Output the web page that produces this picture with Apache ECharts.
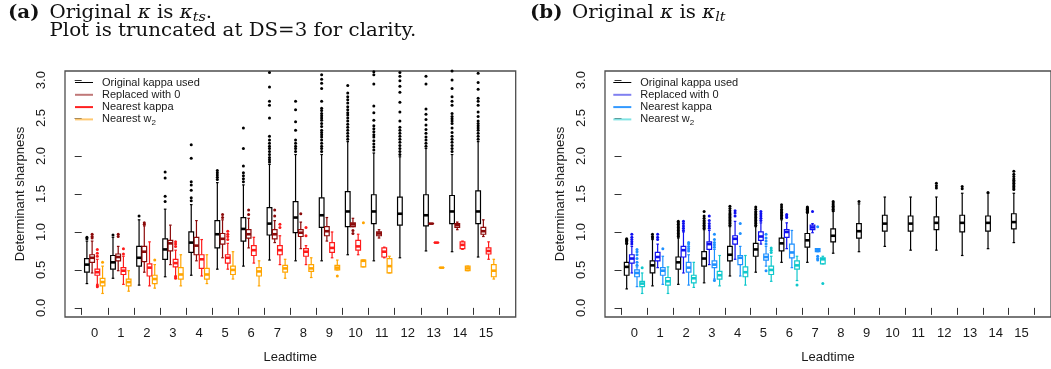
<!DOCTYPE html>
<html>
<head>
<meta charset="utf-8">
<script src="https://cdn.jsdelivr.net/npm/echarts@6/dist/echarts.min.js"></script>
<style>
  html, body { margin: 0; padding: 0; background: #fff; }
  #chart { width: 1051px; height: 369px; }
</style>
</head>
<body>
<div id="chart"></div>
<script>
// ---- categories and tick labels ----
const leadtimes = ['0','1','2','3','4','5','6','7','8','9','10','11','12','13','14','15'];
const yTickValues = [0, 0.5, 1, 1.5, 2, 2.5, 3];
const yTickLabels = ['0.0', '0.5', '1.0', '1.5', '2.0', '2.5', '3.0'];
const seriesNames = ['Original kappa used', 'Replaced with 0', 'Nearest kappa', 'Nearest w2'];

// ---- panel (a): original kappa is kappa_ts; box stats [min, Q1, median, Q3, max] ----
const tsOriginal = [
  [0.32, 0.47, 0.57, 0.65, 0.88], [0.39, 0.51, 0.60, 0.69, 0.93], [0.30, 0.55, 0.66, 0.81, 1.16],
  [0.41, 0.64, 0.77, 0.91, 1.30], [0.43, 0.73, 0.86, 1.00, 1.36], [0.51, 0.79, 0.97, 1.15, 1.65],
  [0.55, 0.88, 1.04, 1.19, 1.62], [0.63, 0.96, 1.11, 1.32, 1.89], [0.62, 0.99, 1.19, 1.40, 2.02],
  [0.62, 1.06, 1.22, 1.45, 2.02], [0.70, 1.07, 1.27, 1.53, 2.19], [0.62, 1.11, 1.27, 1.49, 2.04],
  [0.66, 1.09, 1.24, 1.46, 1.99], [0.75, 1.08, 1.22, 1.49, 2.10], [0.74, 1.11, 1.27, 1.48, 2.02],
  [0.67, 1.11, 1.27, 1.54, 2.19]
];
const tsOriginalOut = [
  [0.91, 0.93], [0.96], [1.21], [1.40, 1.47, 1.71, 1.79],
  [1.41, 1.45, 1.55, 1.62, 1.66, 1.97, 2.15],
  [1.69, 1.72, 1.75, 1.78, 1.81],
  [1.66, 1.70, 1.74, 1.78, 1.87, 2.10, 2.37],
  [1.92, 1.95, 1.98, 2.02, 2.06, 2.10, 2.13, 2.17, 2.21, 2.26, 2.50, 2.67, 2.72, 2.91, 3.10],
  [2.06, 2.10, 2.13, 2.17, 2.21, 2.34, 2.45, 2.61, 2.72],
  [2.06, 2.10, 2.13, 2.17, 2.21, 2.25, 2.28, 2.31, 2.34, 2.39, 2.43, 2.47, 2.50, 2.53, 2.56, 2.60, 2.63, 2.72, 2.89, 2.96, 3.01, 3.07],
  [2.22, 2.26, 2.30, 2.34, 2.38, 2.42, 2.46, 2.50, 2.54, 2.57, 2.61, 2.65, 2.70, 2.74, 2.78, 2.83, 2.93],
  [2.08, 2.12, 2.16, 2.20, 2.25, 2.28, 2.32, 2.36, 2.40, 2.47, 2.57, 2.66, 2.95, 3.07, 3.11],
  [2.02, 2.06, 2.10, 2.14, 2.18, 2.22, 2.26, 2.30, 2.34, 2.38, 2.46, 2.58, 2.71, 2.84, 2.92, 2.99, 3.05, 3.10],
  [2.13, 2.17, 2.21, 2.25, 2.30, 2.35, 2.41, 2.48, 2.55, 2.62, 2.95, 3.05],
  [2.06, 2.10, 2.14, 2.18, 2.22, 2.26, 2.31, 2.37, 2.43, 2.46, 2.49, 2.52, 2.56, 2.67, 2.72, 2.78, 2.89, 3.00, 3.12],
  [2.22, 2.26, 2.30, 2.34, 2.37, 2.40, 2.43, 2.46, 2.52, 2.58, 2.67, 2.72, 2.76, 2.88, 2.97, 3.09]
];
const tsReplaced = [
  [0.46, 0.60, 0.66, 0.70, 0.88], [0.49, 0.62, 0.67, 0.71, 0.81], [0.47, 0.61, 0.74, 0.81, 1.08],
  [0.57, 0.75, 0.85, 0.89, 1.09], [0.62, 0.70, 0.82, 0.93, 1.15], [0.66, 0.84, 0.91, 0.98, 1.16],
  [0.79, 0.92, 0.97, 1.03, 1.18], [0.86, 0.91, 0.97, 1.03, 1.15], [0.78, 0.94, 0.99, 1.03, 1.13],
  [0.88, 0.95, 1.01, 1.07, 1.19], [1.07, 1.07, 1.10, 1.12, 1.18], [0.92, 0.95, 0.98, 1.00, 1.03],
  null, [1.11, 1.11, 1.11, 1.11, 1.11], [1.03, 1.06, 1.09, 1.11, 1.13], [0.94, 0.97, 1.01, 1.06, 1.16]
];
const tsReplacedOut = [
  [0.92, 0.94, 0.97], [0.94, 0.97], [1.10, 1.12], [], [], [1.19, 1.23], [1.23, 1.29], [1.21, 1.29],
  [1.24], [], [0.98, 1.02], [], [], [], [], []
];
const tsNearest = [
  [0.31, 0.43, 0.47, 0.51, 0.64], [0.31, 0.44, 0.49, 0.53, 0.68], [0.29, 0.42, 0.53, 0.58, 0.87],
  [0.42, 0.54, 0.59, 0.64, 0.76], [0.42, 0.52, 0.64, 0.70, 0.90], [0.51, 0.59, 0.66, 0.70, 0.85],
  [0.59, 0.69, 0.76, 0.82, 0.93], [0.57, 0.70, 0.76, 0.82, 0.95], [0.57, 0.68, 0.74, 0.78, 0.82],
  [0.66, 0.73, 0.79, 0.86, 1.00], [0.70, 0.76, 0.81, 0.89, 0.97], [0.66, 0.67, 0.74, 0.79, 0.80],
  null, [0.86, 0.86, 0.86, 0.86, 0.86], [0.77, 0.78, 0.83, 0.87, 0.88], [0.64, 0.71, 0.75, 0.79, 0.87]
];
const tsNearestOut = [
  [0.28, 0.29, 0.68, 0.72, 0.77], [0.71, 0.78], [], [0.39, 0.41, 0.81, 0.84, 0.87], [],
  [0.90, 0.94, 0.97, 1.01], [], [1.06, 1.10], [0.95, 1.06], [], [], [], [], [], [], []
];
const tsW2 = [
  [0.19, 0.29, 0.34, 0.39, 0.55], [0.22, 0.29, 0.34, 0.38, 0.49], [0.26, 0.32, 0.38, 0.43, 0.57],
  [0.29, 0.38, 0.44, 0.53, 0.70], [0.32, 0.38, 0.44, 0.52, 0.70], [0.38, 0.44, 0.50, 0.55, 0.74],
  [0.29, 0.42, 0.48, 0.53, 0.62], [0.39, 0.47, 0.52, 0.56, 0.64], [0.40, 0.48, 0.52, 0.57, 0.66],
  [0.50, 0.50, 0.53, 0.56, 0.63], [0.54, 0.54, 0.62, 0.63, 0.63], [0.46, 0.46, 0.55, 0.65, 0.68],
  null, [0.53, 0.53, 0.53, 0.53, 0.53], [0.49, 0.49, 0.52, 0.55, 0.55], [0.38, 0.41, 0.49, 0.57, 0.64]
];
const tsW2Out = [
  [0.60], [], [0.63], [], [], [], [], [], [], [0.42], [1.12], [], [], [], [], []
];

// ---- panel (b): original kappa is kappa_lt ----
const ltOriginal = [
  [0.25, 0.43, 0.54, 0.60, 0.84], [0.29, 0.46, 0.56, 0.62, 0.90], [0.31, 0.51, 0.60, 0.67, 0.92],
  [0.33, 0.55, 0.65, 0.74, 1.03], [0.42, 0.62, 0.70, 0.81, 1.07], [0.47, 0.68, 0.77, 0.85, 1.07],
  [0.60, 0.75, 0.85, 0.92, 1.16], [0.60, 0.80, 0.89, 0.98, 1.25], [0.72, 0.87, 0.95, 1.04, 1.27],
  [0.74, 0.92, 1.01, 1.11, 1.37], [0.81, 1.01, 1.11, 1.22, 1.46], [0.76, 1.01, 1.11, 1.21, 1.46],
  [0.76, 1.03, 1.12, 1.20, 1.46], [0.69, 1.00, 1.12, 1.22, 1.51], [0.78, 1.01, 1.12, 1.21, 1.51],
  [0.86, 1.04, 1.13, 1.24, 1.51]
];
const ltOriginalOut = [
  [0.85, 0.87, 0.88, 0.89, 0.90, 0.91], [0.92, 0.94, 0.97],
  [0.94, 0.96, 0.98, 1.00, 1.02, 1.04, 1.06, 1.08, 1.10, 1.12, 1.14],
  [1.05, 1.07, 1.09, 1.11, 1.13, 1.15, 1.18, 1.21, 1.27],
  [1.09, 1.11, 1.13, 1.15, 1.17, 1.19, 1.21, 1.23, 1.25, 1.28, 1.31, 1.34],
  [1.09, 1.11, 1.13, 1.15, 1.17, 1.19, 1.21, 1.23, 1.25, 1.27, 1.30, 1.33],
  [1.18, 1.20, 1.22, 1.24, 1.26, 1.28, 1.30, 1.33, 1.36],
  [1.26, 1.27, 1.28, 1.29, 1.30, 1.31, 1.32, 1.33],
  [1.28, 1.30, 1.32, 1.34, 1.36, 1.38, 1.40],
  [1.40], [], [], [1.58, 1.61, 1.64], [1.57, 1.60], [1.52],
  [1.56, 1.58, 1.60, 1.62, 1.64, 1.66, 1.68, 1.70, 1.73, 1.76, 1.80]
];
const ltReplaced = [
  [0.46, 0.59, 0.65, 0.70, 0.81], [0.53, 0.62, 0.67, 0.73, 0.84], [0.46, 0.67, 0.76, 0.81, 1.00],
  [0.57, 0.77, 0.84, 0.87, 1.02], [0.64, 0.84, 0.91, 0.95, 1.14], [0.84, 0.89, 0.94, 1.00, 1.12],
  [0.78, 0.93, 1.00, 1.03, 1.12], [0.99, 1.03, 1.06, 1.09, 1.11],
  null, null, null, null, null, null, null, null
];
const ltReplacedOut = [
  [0.84, 0.87, 0.90, 0.93, 0.97], [0.90, 0.93, 0.97], [1.02, 1.05, 1.08, 1.11, 1.14],
  [1.05, 1.08, 1.11, 1.15, 1.21], [1.21, 1.25, 1.28], [1.15, 1.18, 1.21, 1.24, 1.27],
  [1.19, 1.21, 1.23], [1.27], [], [], [], [], [], [], [], []
];
const ltNearest = [
  [0.28, 0.41, 0.46, 0.50, 0.54], [0.31, 0.43, 0.49, 0.53, 0.68], [0.30, 0.47, 0.53, 0.60, 0.70],
  [0.38, 0.53, 0.57, 0.62, 0.77], [0.42, 0.57, 0.66, 0.69, 0.81], [0.55, 0.63, 0.67, 0.71, 0.81],
  [0.53, 0.66, 0.73, 0.84, 1.02], [0.74, 0.74, 0.76, 0.78, 0.78],
  null, null, null, null, null, null, null, null
];
const ltNearestOut = [
  [0.56, 0.60, 0.65, 0.70, 0.74, 0.77], [0.78], [0.75, 0.78, 0.81, 0.84, 0.86],
  [0.36, 0.80, 0.83, 0.86, 0.90, 0.97], [0.98, 1.11], [0.49, 0.84, 0.88, 0.92, 0.97],
  [], [0.63, 0.65, 0.68, 1.07], [], [], [], [], [], [], [], []
];
const ltW2 = [
  [0.19, 0.28, 0.32, 0.35, 0.46], [0.19, 0.30, 0.35, 0.40, 0.54], [0.27, 0.33, 0.39, 0.43, 0.60],
  [0.29, 0.38, 0.43, 0.48, 0.69], [0.30, 0.41, 0.47, 0.54, 0.69], [0.35, 0.44, 0.50, 0.55, 0.68],
  [0.36, 0.51, 0.56, 0.62, 0.68], [0.58, 0.58, 0.64, 0.66, 0.68],
  null, null, null, null, null, null, null, null
];
const ltW2Out = [
  [0.53], [], [], [], [], [0.73, 0.76, 0.79], [0.30], [0.32], [], [], [], [], [], [], [], []
];

// ---- colours ----
const tsColors = ['#000000', '#8b0a0a', '#ff1a1a', '#ffa500'];
const ltColors = ['#000000', '#1010f0', '#1e90ff', '#10c8cc'];
const tsLegendColors = ['#000000', '#c07878', '#ff2020', '#ffc870'];
const ltLegendColors = ['#000000', '#8080f0', '#3399ff', '#80e4e4'];

const axisFont = 'Liberation Sans, Arial, sans-serif';
const textColor = '#1a1a1a';

// Draws one box-and-whisker (R style: thick median, half-width staples, dot outliers)
function boxRenderer(outliers, slot, color) {
  return function (params, api) {
    const i = api.value(0);
    const band = api.size([1, 0])[0];
    const cx = api.coord([i + 0.5, 0])[0] + (slot - 1.5) * 0.2 * band;
    const hw = 0.09 * band;
    const cap = hw * 0.55;
    const y = v => api.coord([0, v])[1];
    const lo = y(api.value(1)), q1 = y(api.value(2)), md = y(api.value(3));
    const q3 = y(api.value(4)), hi = y(api.value(5));
    const seg = (x1, y1, x2, y2, w) => ({
      type: 'line', shape: { x1, y1, x2, y2 },
      style: { stroke: color, lineWidth: w || 1.2 }
    });
    const children = [
      seg(cx, q3, cx, hi), seg(cx, q1, cx, lo),
      seg(cx - cap, hi, cx + cap, hi), seg(cx - cap, lo, cx + cap, lo),
      { type: 'rect', shape: { x: cx - hw, y: q3, width: 2 * hw, height: Math.max(q1 - q3, 0.01) },
        style: { fill: 'none', stroke: color, lineWidth: 1.2 } },
      seg(cx - hw, md, cx + hw, md, 2.6)
    ];
    (outliers[i] || []).forEach(v => {
      children.push({ type: 'circle', shape: { cx, cy: y(v), r: 1.5 }, style: { fill: color } });
    });
    return { type: 'group', children };
  };
}

function boxSeries(name, stats, outliers, slot, color, gridIndex) {
  const data = [];
  stats.forEach((s, i) => { if (s) data.push([i].concat(s)); });
  return {
    type: 'custom', name, xAxisIndex: gridIndex, yAxisIndex: gridIndex,
    encode: { x: 0, y: [1, 2, 3, 4, 5] },
    itemStyle: { color },
    renderItem: boxRenderer(outliers, slot, color),
    data
  };
}

const tickPos = leadtimes.map((_, i) => i).concat([leadtimes.length]);
const labelPos = leadtimes.map((_, i) => i + 0.5);

function xAxisFor(g) {
  return {
    type: 'value', gridIndex: g, min: -0.64, max: 16.64,
    axisLine: { show: false }, splitLine: { show: false },
    axisTick: { show: true, length: 7, customValues: tickPos, lineStyle: { color: '#333', width: 1 } },
    axisLabel: {
      customValues: labelPos, formatter: v => leadtimes[Math.floor(v)],
      margin: 10, fontSize: 13, fontFamily: axisFont, color: textColor
    },
    name: 'Leadtime', nameLocation: 'middle', nameGap: 34,
    nameTextStyle: { fontSize: 13, fontFamily: axisFont, color: textColor }
  };
}

function yAxisFor(g) {
  return {
    type: 'value', gridIndex: g, min: -0.12, max: 3.12,
    axisLine: { show: false }, splitLine: { show: false },
    axisTick: { show: true, length: 7, customValues: yTickValues, lineStyle: { color: '#333', width: 1 } },
    axisLabel: {
      customValues: yTickValues, rotate: 90,
      formatter: v => yTickLabels[yTickValues.indexOf(v)],
      margin: 17, fontSize: 13, fontFamily: axisFont, color: textColor
    },
    name: 'Determinant sharpness', nameLocation: 'middle', nameGap: 38, nameRotate: 90,
    nameTextStyle: { fontSize: 13, fontFamily: axisFont, color: textColor }
  };
}

function legendFor(left, colors) {
  return {
    left, top: 76.5, orient: 'vertical', padding: 0, itemGap: 0.3,
    itemWidth: 18, itemHeight: 12, selectedMode: false,
    formatter: n => (n === 'Nearest w2' ? 'Nearest w{sub|2}' : n),
    textStyle: {
      fontFamily: axisFont, fontSize: 11, color: textColor, lineHeight: 12, padding: [0, 0, 0, 4],
      rich: { sub: { fontFamily: axisFont, fontSize: 8, color: textColor, padding: [6, 0, 0, 0] } }
    },
    data: seriesNames.map((n, k) => ({
      name: n,
      icon: k === 0 ? 'path://M0,0H18V1H0Z' : 'path://M0,0H18V2H0Z',
      itemStyle: { color: colors[k] }
    }))
  };
}

const serif = 'DejaVu Serif, Liberation Serif, serif';
function titleText(x, y, text) {
  return {
    type: 'text', x, y, scaleX: 1.1, silent: true,
    style: {
      text, fill: '#111', fontFamily: serif, fontSize: 18, align: 'left', verticalAlign: 'middle',
      rich: {
        b: { fontFamily: serif, fontWeight: 'bold', fontSize: 18, fill: '#111' },
        k: { fontFamily: serif, fontStyle: 'italic', fontSize: 18, fill: '#111' },
        s: { fontFamily: serif, fontStyle: 'italic', fontSize: 13, fill: '#111', padding: [9, 0, 0, 0] }
      }
    }
  };
}

const chart = echarts.init(document.getElementById('chart'), null, { renderer: 'canvas' });
chart.setOption({
  animation: false,
  backgroundColor: '#ffffff',
  grid: [
    { left: 65, top: 71, width: 450.7, height: 247, show: true, borderColor: '#4d4d4d', borderWidth: 1.3 },
    { left: 605, top: 71, width: 450.7, height: 247, show: true, borderColor: '#4d4d4d', borderWidth: 1.3 }
  ],
  xAxis: [xAxisFor(0), xAxisFor(1)],
  yAxis: [yAxisFor(0), yAxisFor(1)],
  legend: [legendFor(75, tsLegendColors), legendFor(613.3, ltLegendColors)],
  graphic: [
    titleText(8, 13.5, '{b|(a)}'),
    titleText(49.5, 13.5, 'Original {k|κ} is {k|κ}{s|ts}.'),
    titleText(49.5, 31, 'Plot is truncated at DS=3 for clarity.'),
    titleText(530, 13.5, '{b|(b)}'),
    titleText(572, 13.5, 'Original {k|κ} is {k|κ}{s|lt}')
  ],
  series: [
    boxSeries(seriesNames[0], tsOriginal, tsOriginalOut, 0, tsColors[0], 0),
    boxSeries(seriesNames[1], tsReplaced, tsReplacedOut, 1, tsColors[1], 0),
    boxSeries(seriesNames[2], tsNearest, tsNearestOut, 2, tsColors[2], 0),
    boxSeries(seriesNames[3], tsW2, tsW2Out, 3, tsColors[3], 0),
    boxSeries(seriesNames[0], ltOriginal, ltOriginalOut, 0, ltColors[0], 1),
    boxSeries(seriesNames[1], ltReplaced, ltReplacedOut, 1, ltColors[1], 1),
    boxSeries(seriesNames[2], ltNearest, ltNearestOut, 2, ltColors[2], 1),
    boxSeries(seriesNames[3], ltW2, ltW2Out, 3, ltColors[3], 1)
  ]
});
</script>
</body>
</html>
